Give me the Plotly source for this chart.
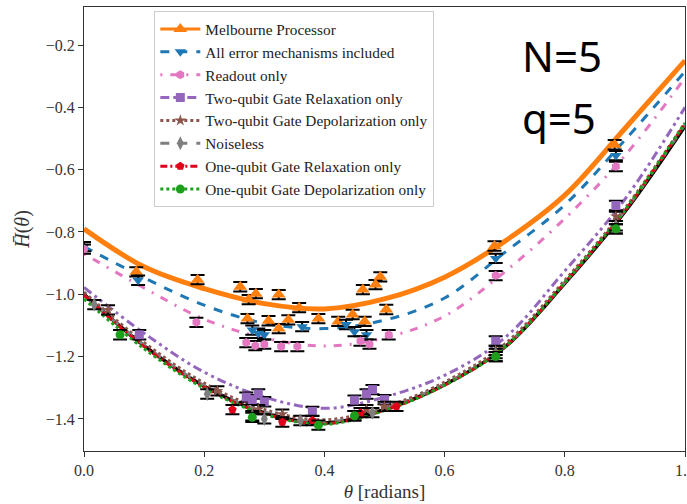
import plotly.graph_objects as go

# ---------------- data ----------------
theta_fit = [0.0, 0.1, 0.2, 0.3, 0.4, 0.5, 0.6, 0.7, 0.8, 0.9, 1.0]
exact_fit = [-1.000, -1.165, -1.295, -1.380, -1.413, -1.370, -1.290, -1.170, -0.965, -0.735, -0.460]
melbourne_fit = [-0.790, -0.912, -0.982, -1.030, -1.047, -1.015, -0.945, -0.830, -0.682, -0.468, -0.250]
all_fit = [-0.847, -0.947, -1.035, -1.093, -1.110, -1.083, -1.012, -0.866, -0.713, -0.505, -0.285]
readout_fit = [-0.870, -0.980, -1.080, -1.140, -1.166, -1.140, -1.070, -0.928, -0.757, -0.555, -0.305]
tq_relax_fit = [-0.978, -1.125, -1.250, -1.330, -1.366, -1.330, -1.260, -1.140, -0.925, -0.695, -0.400]
tq_depol_fit = [-0.993, -1.155, -1.285, -1.370, -1.403, -1.362, -1.282, -1.160, -0.955, -0.725, -0.450]
noiseless_fit = [-1.003, -1.163, -1.293, -1.378, -1.410, -1.368, -1.288, -1.168, -0.962, -0.732, -0.455]
oq_relax_fit = [-1.003, -1.168, -1.298, -1.383, -1.415, -1.372, -1.292, -1.170, -0.963, -0.732, -0.452]
oq_depol_fit = [-1.015, -1.175, -1.302, -1.385, -1.417, -1.373, -1.292, -1.170, -0.962, -0.730, -0.450]

melbourne_theta = [0.087, 0.189, 0.26, 0.274, 0.286, 0.272, 0.307, 0.324, 0.324, 0.34, 0.358, 0.39,
                   0.423, 0.447, 0.464, 0.467, 0.485, 0.493, 0.503, 0.683, 0.883]
melbourne_val = [-0.928, -0.953, -0.976, -1.017, -0.998, -1.078, -1.085, -1.001, -1.110, -1.082, -1.043, -1.078,
                 -1.087, -1.065, -0.985, -1.087, -0.969, -0.944, -1.049, -0.845, -0.520]
all_theta = [0.0, 0.09, 0.28, 0.29, 0.30, 0.363, 0.436, 0.45, 0.47, 0.685, 0.885]
all_val = [-0.847, -0.955, -1.115, -1.125, -1.130, -1.104, -1.097, -1.120, -1.130, -0.885, -0.555]
readout_theta = [0.0, 0.187, 0.27, 0.285, 0.30, 0.328, 0.355, 0.46, 0.475, 0.507, 0.685, 0.885]
readout_val = [-0.855, -1.090, -1.155, -1.165, -1.160, -1.168, -1.168, -1.150, -1.160, -1.130, -0.940, -0.590]
tq_relax_theta = [0.092, 0.27, 0.28, 0.29, 0.30, 0.38, 0.45, 0.47, 0.48, 0.50, 0.685, 0.885]
tq_relax_val = [-1.130, -1.330, -1.338, -1.320, -1.345, -1.376, -1.340, -1.320, -1.306, -1.338, -1.150, -0.715]
tq_depol_theta = [0.04, 0.222, 0.29, 0.33, 0.47, 0.50, 0.685, 0.885]
tq_depol_val = [-1.050, -1.310, -1.370, -1.385, -1.370, -1.360, -1.180, -0.750]
noiseless_theta = [0.017, 0.205, 0.28, 0.30, 0.36, 0.45, 0.48, 0.685, 0.885]
noiseless_val = [-1.033, -1.320, -1.390, -1.400, -1.405, -1.390, -1.380, -1.190, -0.780]
oq_relax_theta = [0.247, 0.33, 0.38, 0.46, 0.52, 0.685, 0.885]
oq_relax_val = [-1.370, -1.410, -1.405, -1.380, -1.360, -1.200, -0.790]
oq_depol_theta = [0.06, 0.28, 0.39, 0.45, 0.685, 0.885]
oq_depol_val = [-1.130, -1.395, -1.420, -1.390, -1.200, -0.790]
err = 0.015

labels = ["Melbourne Processor", "All error mechanisms included", "Readout only",
          "Two-qubit Gate Relaxation only", "Two-qubit Gate Depolarization only", "Noiseless",
          "One-qubit Gate Relaxation only", "One-qubit Gate Depolarization only"]
x_ticks = [0.0, 0.2, 0.4, 0.6, 0.8, 1.0]
y_ticks = [-1.4, -1.2, -1.0, -0.8, -0.6, -0.4, -0.2]

# ---------------- styles ----------------
series = [
    (melbourne_fit, melbourne_theta, melbourne_val, "#ff7f0e", "solid", 5, "triangle-up", 12),
    (all_fit, all_theta, all_val, "#1f77b4", "dash", 3, "triangle-down", 10),
    (readout_fit, readout_theta, readout_val, "#e377c2", "2px,8px,8px,8px", 3, "hexagon", 9),
    (tq_relax_fit, tq_relax_theta, tq_relax_val, "#9467bd", "9px,4px,3px,4px,3px,4px", 3, "square", 9),
    (tq_depol_fit, tq_depol_theta, tq_depol_val, "#8c564b", "dot", 3, "star", 9),
    (noiseless_fit, noiseless_theta, noiseless_val, "#7f7f7f", "dash", 3, "diamond-tall", 10),
    (oq_relax_fit, oq_relax_theta, oq_relax_val, "#e0001a", "7px,3px,2px,3px", 3, "pentagon", 9),
    (oq_depol_fit, oq_depol_theta, oq_depol_val, "#1ca01c", "dot", 3, "circle", 9),
]

fig = go.Figure()
serif = "Liberation Serif, Times New Roman, serif"

# exact curve (black, underneath)
fig.add_trace(go.Scatter(x=theta_fit, y=exact_fit, mode="lines", line=dict(color="black", width=3.5, shape="spline"),
                         showlegend=False, hoverinfo="skip"))

for (fit, th, val, col, dash, w, sym, ms), lab in zip(series, labels):
    fig.add_trace(go.Scatter(x=theta_fit, y=fit, mode="lines",
                             line=dict(color=col, width=w, dash=dash, shape="spline"),
                             showlegend=False))
for (fit, th, val, col, dash, w, sym, ms), lab in zip(series, labels):
    fig.add_trace(go.Scatter(x=th, y=val, mode="markers",
                             marker=dict(color=col, symbol=sym, size=ms),
                             error_y=dict(type="constant", value=err, color="black", thickness=2, width=7),
                             showlegend=False))
# legend entries
for (fit, th, val, col, dash, w, sym, ms), lab in zip(series, labels):
    fig.add_trace(go.Scatter(x=[None], y=[None], mode="lines+markers", name=lab,
                             line=dict(color=col, width=min(w, 3), dash=dash),
                             marker=dict(color=col, symbol=sym, size=ms)))

fig.add_annotation(text="N=5", xref="paper", yref="paper", x=0.725, y=0.891, xanchor="left", yanchor="middle",
                   showarrow=False, font=dict(family="Noto Sans", size=42, color="black"))
fig.add_annotation(text="q=5", xref="paper", yref="paper", x=0.725, y=0.752, xanchor="left", yanchor="middle",
                   showarrow=False, font=dict(family="Noto Sans", size=42, color="black"))

fig.update_layout(
    width=687, height=504,
    margin=dict(l=84, r=2, t=7, b=53, autoexpand=False),
    plot_bgcolor="white", paper_bgcolor="white",
    font=dict(family=serif, size=16, color="#333"),
    legend=dict(x=0.117, y=0.99, xanchor="left", yanchor="top",
                bgcolor="rgba(255,255,255,0.9)", bordercolor="#cccccc", borderwidth=1,
                font=dict(family=serif, size=15.3, color="#222"), itemwidth=40, tracegroupgap=0),
    xaxis=dict(range=[0, 1], tickvals=x_ticks, ticktext=[f"{v:.1f}" for v in x_ticks], automargin=False,
               showgrid=False, zeroline=False, showline=True, linecolor="#333", linewidth=1, mirror=True,
               ticks="outside", ticklen=5, tickcolor="#333", ticklabeloverflow="allow",
               title=dict(text="<i>θ</i> [radians]", font=dict(family=serif, size=19), standoff=6)),
    yaxis=dict(range=[-1.503, -0.078], tickvals=y_ticks, ticktext=[f"−{abs(v):.1f}" for v in y_ticks],
               automargin=False,
               showgrid=False, zeroline=False, showline=True, linecolor="#333", linewidth=1, mirror=True,
               ticks="outside", ticklen=5, tickcolor="#333",
               title=dict(text="<i>H̄</i>(<i>θ</i>)", font=dict(family=serif, size=20), standoff=10)),
)

fig.write_html("out.html", config={"displayModeBar": False},
               post_script="document.body.style.margin='0px';")
